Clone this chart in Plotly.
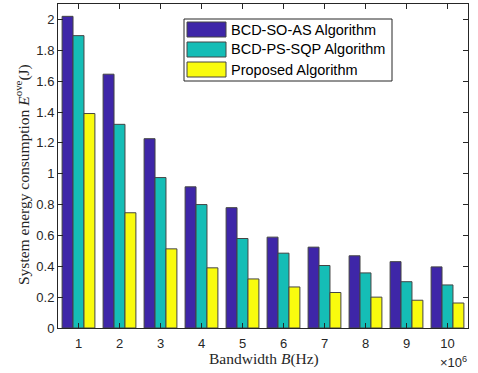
import plotly.graph_objects as go

categories = [1, 2, 3, 4, 5, 6, 7, 8, 9, 10]
so_as = [2.02, 1.645, 1.227, 0.915, 0.78, 0.589, 0.524, 0.468, 0.43, 0.396]
ps_sqp = [1.895, 1.32, 0.975, 0.80, 0.58, 0.485, 0.405, 0.357, 0.30, 0.279]
proposed = [1.39, 0.747, 0.513, 0.39, 0.318, 0.266, 0.23, 0.20, 0.18, 0.162]
names = ["BCD-SO-AS Algorithm", "BCD-PS-SQP Algorithm", "Proposed Algorithm"]
colors = ["#3e26a8", "#15bdb6", "#f9fb0e"]
y_ticks = [0, 0.2, 0.4, 0.6, 0.8, 1, 1.2, 1.4, 1.6, 1.8, 2]

W, H = 478, 373
L, R, T, B = 58, 10, 4, 45
PW, PH = W - L - R, H - T - B


def px_x(px):
    return (px - L) / PW


def px_y(py):
    return (H - B - py) / PH


fig = go.Figure()
for vals, name, col in zip([so_as, ps_sqp, proposed], names, colors):
    fig.add_trace(go.Bar(x=categories, y=vals, name=name, showlegend=False,
                         marker=dict(color=col, line=dict(color="#444444", width=1))))

tickfont = dict(family="Liberation Sans, Arial", size=13, color="#262626")
fig.update_layout(
    width=W, height=H,
    margin=dict(l=L, r=R, t=T, b=B, autoexpand=False),
    paper_bgcolor="white", plot_bgcolor="white",
    barmode="group", bargap=0.2, bargroupgap=0,
    showlegend=False,
    xaxis=dict(range=[0.5, 10.5], tickmode="array", tickvals=categories,
               ticktext=[str(c) for c in categories], automargin=False,
               ticks="inside", ticklen=5, tickcolor="#262626", ticklabelstandoff=3,
               showline=True, linecolor="#262626", linewidth=1, mirror="ticks",
               showgrid=False, zeroline=False, tickfont=tickfont),
    yaxis=dict(range=[0, 2.1], tickmode="array", tickvals=y_ticks,
               ticktext=[f"{t:g}" for t in y_ticks], automargin=False,
               ticks="inside", ticklen=5, tickcolor="#262626",
               showline=True, linecolor="#262626", linewidth=1, mirror="ticks",
               showgrid=False, zeroline=False, tickfont=tickfont),
)

fig.add_annotation(x=px_x(264), y=px_y(359), xref="paper", yref="paper",
                   xanchor="center", yanchor="middle", showarrow=False, borderpad=0,
                   text="Bandwidth <i>B</i>(Hz)",
                   font=dict(family="Liberation Serif, DejaVu Serif", size=15.5, color="#262626"))
fig.add_annotation(x=px_x(22), y=px_y(175), xref="paper", yref="paper",
                   xanchor="center", yanchor="middle", showarrow=False, textangle=-90,
                   text="System energy consumption <i>E</i><sup>ove</sup>(J)",
                   font=dict(family="Liberation Serif, DejaVu Serif", size=15.5, color="#262626"))
fig.add_annotation(x=px_x(469), y=px_y(362), xref="paper", yref="paper",
                   xanchor="right", yanchor="middle", showarrow=False,
                   text="×10<sup>6</sup>",
                   font=dict(family="Liberation Sans, Arial", size=13, color="#262626"))

# legend box drawn manually (MATLAB style)
fig.add_shape(type="rect", xref="paper", yref="paper",
              x0=px_x(184), x1=px_x(392), y0=px_y(81), y1=px_y(19),
              fillcolor="white", line=dict(color="#262626", width=1), layer="above")
row_tops = [22, 42, 62]
for name, col, top in zip(names, colors, row_tops):
    fig.add_shape(type="rect", xref="paper", yref="paper",
                  x0=px_x(187), x1=px_x(226), y0=px_y(top + 15), y1=px_y(top),
                  fillcolor=col, line=dict(color="#444444", width=1), layer="above")
    fig.add_annotation(x=px_x(229), y=px_y(top + 7.5), xref="paper", yref="paper",
                       xanchor="left", yanchor="middle", showarrow=False, text=name,
                       font=dict(family="Liberation Sans, Arial", size=14.5, color="#000000"))

fig.write_html("out.html", config={"displayModeBar": False},
               post_script="document.body.style.margin='0px';")
